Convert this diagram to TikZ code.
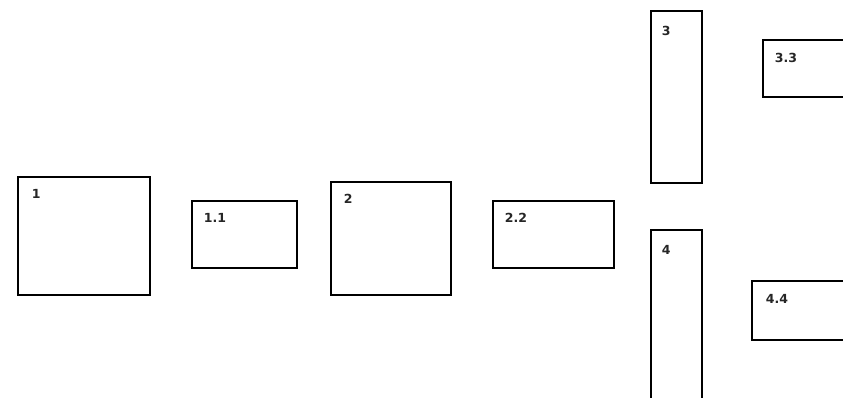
\documentclass[tikz,border=0pt]{standalone}
\usepackage{fontspec}
\setmainfont{DejaVu Sans}
\usepackage{tikz}
\usetikzlibrary{positioning,calc}
\definecolor{ink}{HTML}{000000}

\begin{document}
\begin{tikzpicture}[x=1pt,y=-1pt,
  blk/.style={draw=ink,line width=2.6pt,rectangle,inner sep=0pt},
  lbl/.style={anchor=north west,inner sep=0pt,font=\fontsize{12.5}{14}\selectfont\bfseries,text=ink!85}]
  \useasboundingbox (0,0) rectangle (843,398);
  \clip (0,0) rectangle (843,398);
  % boxes
  \node[blk,minimum width=132pt,minimum height=118pt] (b1) at (84,236) {};
  \node[blk,minimum width=105pt,minimum height=67pt] (b11) at (244.5,234.5) {};
  \node[blk,minimum width=120pt,minimum height=113pt] (b2) at (391,238.5) {};
  \node[blk,minimum width=121pt,minimum height=67pt] (b22) at (553.5,234.5) {};
  \node[blk,minimum width=51pt,minimum height=172pt] (b3) at (676.5,97) {};
  \node[blk,minimum width=107pt,minimum height=57pt] (b33) at (816.5,68.5) {};
  \node[blk,minimum width=51pt,minimum height=190pt] (b4) at (676.5,325) {};
  \node[blk,minimum width=118pt,minimum height=59pt] (b44) at (811,310.5) {};
  % labels
  \node[lbl] (l1) at ([shift={(15pt,-13pt)}]b1.north west) {1};
  \node[lbl] (l11) at ([shift={(13pt,-13pt)}]b11.north west) {1.1};
  \node[lbl] (l2) at ([shift={(14pt,-13pt)}]b2.north west) {2};
  \node[lbl] (l22) at ([shift={(13pt,-13pt)}]b22.north west) {2.2};
  \node[lbl] (l3) at ([shift={(12pt,-16pt)}]b3.north west) {3};
  \node[lbl] (l33) at ([shift={(13pt,-14pt)}]b33.north west) {3.3};
  \node[lbl] (l4) at ([shift={(12pt,-16pt)}]b4.north west) {4};
  \node[lbl] (l44) at ([shift={(15pt,-14pt)}]b44.north west) {4.4};
\end{tikzpicture}
\end{document}
